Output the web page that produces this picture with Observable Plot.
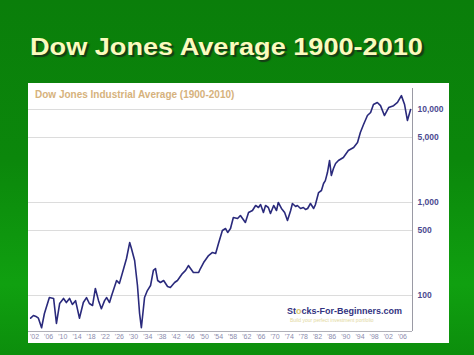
<!DOCTYPE html>
<html>
<head>
<meta charset="utf-8">
<script src="https://cdn.jsdelivr.net/npm/d3@7"></script>
<script src="https://cdn.jsdelivr.net/npm/@observablehq/plot@0.6"></script>
<style>
  html, body { margin: 0; padding: 0; }
  body {
    width: 474px; height: 355px; overflow: hidden; position: relative;
    background: linear-gradient(to bottom, #0a7e0a 0%, #0b870b 45%, #10a010 80%, #0c8e0c 100%);
    font-family: "Liberation Sans", Arial, sans-serif;
  }
  #title {
    position: absolute; left: 30px; top: 33px; white-space: nowrap;
    font-weight: bold; font-size: 24px; color: #fbfbbd;
    text-shadow: 2px 2px 1px #163c16;
    transform: scaleX(1.13); transform-origin: left top;
  }
  #panel {
    position: absolute; left: 28px; top: 83px; width: 421px; height: 260px;
    background: #ffffff;
  }
  #panel svg { position: absolute; left: 0; top: 0; overflow: visible; }
  #inner-title {
    position: absolute; left: 7px; top: 6px; font-size: 10px; font-weight: bold;
    color: #d6b27c; white-space: nowrap;
  }
  #brand {
    position: absolute; left: 259px; top: 223px; font-size: 9px; font-weight: bold;
    color: #33337f; white-space: nowrap;
  }
  #brand .o { color: #d9c46c; }
  #tagline {
    position: absolute; left: 262px; top: 234px; font-size: 5px; color: #e2d8a0;
    white-space: nowrap;
  }
</style>
</head>
<body>
<div id="title">Dow Jones Average 1900-2010</div>
<div id="panel">
  <div id="chart"></div>
  <div id="inner-title">Dow Jones Industrial Average (1900-2010)</div>
  <div id="brand">St<span class="o">o</span>cks-For-Beginners.com</div>
  <div id="tagline">Build your perfect investment portfolio</div>
</div>
<script>
// Values (approximate)
const years = [
  1900.9, 1901.7, 1902.6, 1903.1, 1904.0, 1904.8, 1906.2, 1907.4, 1908.2, 1909.1,
  1910.2, 1911.0, 1911.9, 1912.7, 1913.6, 1914.7, 1915.8, 1916.7, 1917.5, 1918.4,
  1919.2, 1920.1, 1920.9, 1921.8, 1922.4, 1923.2, 1923.8, 1925.2, 1926.0, 1927.2,
  1928.0, 1928.9, 1929.4, 1930.3, 1931.1, 1931.7, 1932.2, 1933.1, 1933.9, 1934.8,
  1935.6, 1936.2, 1936.8, 1937.6, 1938.5, 1939.6, 1940.4, 1941.6, 1942.4, 1943.8,
  1944.7, 1945.5, 1946.1, 1946.9, 1948.4, 1948.9, 1949.8, 1951.2, 1952.3, 1953.2,
  1954.0, 1955.1, 1956.0, 1956.6, 1957.4, 1958.2, 1959.4, 1960.2, 1961.6, 1962.5,
  1963.6, 1964.5, 1965.3, 1965.9, 1966.7, 1967.3, 1968.1, 1968.7, 1969.6, 1970.4,
  1970.9, 1971.8, 1972.7, 1973.5, 1974.4, 1974.9, 1975.8, 1976.3, 1977.2, 1978.0,
  1978.6, 1979.2, 1980.0, 1980.9, 1981.4, 1982.3, 1983.1, 1983.7, 1984.2, 1984.8,
  1985.4, 1985.9, 1986.5, 1987.1, 1987.9, 1989.3, 1990.7, 1992.2, 1993.3, 1994.1,
  1995.0, 1996.1, 1997.0, 1997.8, 1998.9, 1999.8, 2000.9, 2002.1, 2003.5, 2004.6,
  2005.7, 2006.6, 2007.4, 2008.3
];
const dow = [
  57, 61, 59, 57, 45, 64, 95, 93, 50, 82,
  93, 84, 93, 80, 88, 57, 84, 95, 82, 78,
  119, 88, 72, 88, 95, 84, 100, 145, 135, 195,
  250, 371, 320, 238, 128, 64, 45, 95, 113, 128,
  186, 195, 145, 138, 145, 125, 122, 138, 145, 172,
  186, 210, 195, 177, 177, 195, 226, 269, 290, 283,
  362, 500, 525, 476, 525, 690, 673, 725, 610, 780,
  820, 929, 883, 950, 780, 929, 883, 762, 929, 820,
  1000, 862, 780, 640, 820, 975, 906, 929, 862, 883,
  841, 862, 975, 862, 950, 1280, 1346, 1600, 1720, 2100,
  2830, 1950, 2320, 2630, 2830, 3050, 3620, 3900, 4420, 5660,
  6900, 8610, 9290, 11300, 11900, 11000, 8610, 10500, 11000, 11900,
  14100, 11300, 7620, 10000
];
const xTicks = d3.range(1902, 2007, 4);
const yTicks = [100, 500, 1000, 5000, 10000];
const xDomain = [1900.3, 2008.84];
const yDomain = [41, 16820];

const data = years.map((y, i) => ({year: y, value: dow[i]}));

const chart = Plot.plot({
  width: 421,
  height: 260,
  marginLeft: 0,
  marginRight: 37,
  marginTop: 5,
  marginBottom: 12,
  style: {background: "transparent", fontFamily: "Liberation Sans, Arial, sans-serif"},
  x: {domain: xDomain, ticks: xTicks},
  y: {type: "log", domain: yDomain, axis: null},
  marks: [
    Plot.ruleY(yTicks, {stroke: "#dcdcdc", strokeWidth: 1}),
    Plot.line(data, {x: "year", y: "value", stroke: "#2a2a7c", strokeWidth: 1.6, curve: "linear"}),
    Plot.ruleX([xDomain[1]], {stroke: "#9a9aa4", strokeWidth: 1}),
    Plot.ruleY([yDomain[0]], {stroke: "#b0b0b8", strokeWidth: 1}),
    Plot.axisX(xTicks, {
      tickSize: 0, tickPadding: 3, fontSize: 7, fill: "#8c8cae",
      tickFormat: d => "'" + String(d % 100).padStart(2, "0"), label: null
    }),
    Plot.text(yTicks, {
      y: d => d, frameAnchor: "right", dx: 5, textAnchor: "start",
      text: d => d3.format(",")(d), fontSize: 8.5, fontWeight: "bold", fill: "#4b4b8f"
    })
  ]
});
document.getElementById("chart").appendChild(chart);
</script>
</body>
</html>
